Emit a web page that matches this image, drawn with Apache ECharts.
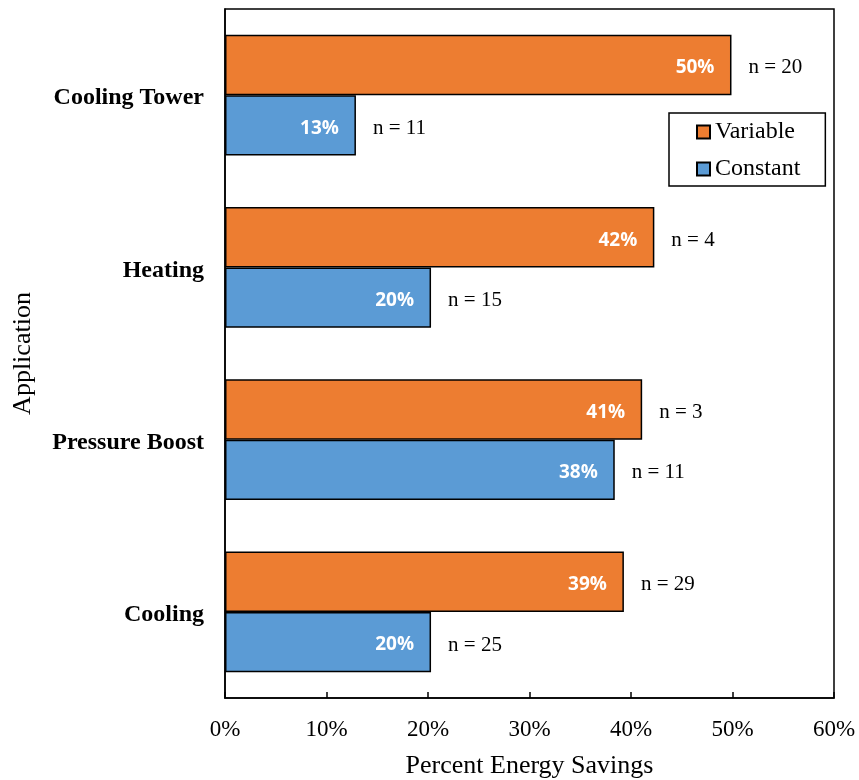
<!DOCTYPE html>
<html>
<head>
<meta charset="utf-8">
<script src="https://cdn.jsdelivr.net/npm/echarts@6/dist/echarts.min.js"></script>
<style>
html,body{margin:0;padding:0;background:#fff;}
#chart{width:859px;height:780px;}
</style>
</head>
<body>
<div id="chart"></div>
<script>
const categories = ['Cooling', 'Pressure Boost', 'Heating', 'Cooling Tower'];
const variableValues = [39.3, 41.1, 42.3, 49.9];
const constantValues = [20.3, 38.4, 20.3, 12.9];
const variableN = [29, 3, 4, 20];
const constantN = [25, 11, 15, 11];
const xTicks = [0, 10, 20, 30, 40, 50, 60];

const chart = echarts.init(document.getElementById('chart'));
const serif = '"Liberation Serif", "Times New Roman", serif';
const sans = '"Open Sans", "Noto Sans", sans-serif';
const ORANGE = '#ED7D31', BLUE = '#5B9BD5';

function pctLabel() {
  return {
    show: true, position: 'insideRight', distance: 17, offset: [0, 3],
    color: '#fff', fontFamily: sans, fontWeight: 'bold', fontSize: 19,
    formatter: p => Math.round(p.value) + '%'
  };
}
function nLabel(arr) {
  return {
    show: true, position: 'right', distance: 17, offset: [0, 3],
    color: '#000', fontFamily: serif, fontSize: 21,
    formatter: p => 'n = ' + arr[p.dataIndex]
  };
}
const barCommon = { barCategoryGap: '30%', barGap: '0%' };

chart.setOption({
  animation: false,
  backgroundColor: '#fff',
  grid: { left: 225, right: 25, top: 9, bottom: 82, show: true, borderColor: '#000', borderWidth: 1.5,
          containLabel: false, outerBoundsMode: 'none' },
  legend: {
    data: ['Variable', 'Constant'],
    orient: 'vertical', left: 669, top: 113,
    padding: [7, 25, 5, 27], itemGap: 13, itemWidth: 13, itemHeight: 13,
    borderColor: '#000', borderWidth: 1.5, backgroundColor: '#fff',
    icon: 'rect',
    textStyle: { fontFamily: serif, fontSize: 24, color: '#000' }
  },
  xAxis: {
    type: 'value', min: xTicks[0], max: xTicks[xTicks.length - 1], interval: 10,
    axisLine: { show: true, lineStyle: { color: '#000', width: 1.5 } },
    axisTick: { show: true, inside: true, length: 6, lineStyle: { color: '#000', width: 1.5 } },
    splitLine: { show: false },
    axisLabel: { formatter: v => v + '%', fontFamily: serif, fontSize: 23, color: '#000', margin: 20 },
    name: 'Percent Energy Savings', nameLocation: 'middle', nameGap: 55,
    nameTextStyle: { fontFamily: serif, fontSize: 26, color: '#000' }
  },
  yAxis: [{
    type: 'category', data: categories,
    axisLine: { show: true, lineStyle: { color: '#000', width: 1.5 } },
    axisTick: { show: false },
    axisLabel: { fontFamily: serif, fontWeight: 'bold', fontSize: 24, color: '#000', margin: 21,
                 verticalAlign: 'top', lineHeight: 6 },
    name: 'Application', nameLocation: 'middle', nameGap: 189, nameRotate: 90,
    nameTextStyle: { fontFamily: serif, fontSize: 26, color: '#000' }
  }, {
    type: 'category', data: categories, show: false, position: 'left'
  }],
  series: [
    Object.assign({
      name: 'Variable', type: 'bar', yAxisIndex: 0, data: variableValues,
      itemStyle: { color: ORANGE, borderColor: '#000', borderWidth: 1.5 },
      label: pctLabel()
    }, barCommon),
    Object.assign({
      name: 'Constant', type: 'bar', yAxisIndex: 0, data: constantValues,
      itemStyle: { color: BLUE, borderColor: '#000', borderWidth: 1.5 },
      label: pctLabel()
    }, barCommon),
    Object.assign({
      name: 'VariableN', type: 'bar', yAxisIndex: 1, data: variableValues,
      itemStyle: { color: 'rgba(0,0,0,0)' }, silent: true,
      label: nLabel(variableN)
    }, barCommon),
    Object.assign({
      name: 'ConstantN', type: 'bar', yAxisIndex: 1, data: constantValues,
      itemStyle: { color: 'rgba(0,0,0,0)' }, silent: true,
      label: nLabel(constantN)
    }, barCommon)
  ]
});
</script>
</body>
</html>
